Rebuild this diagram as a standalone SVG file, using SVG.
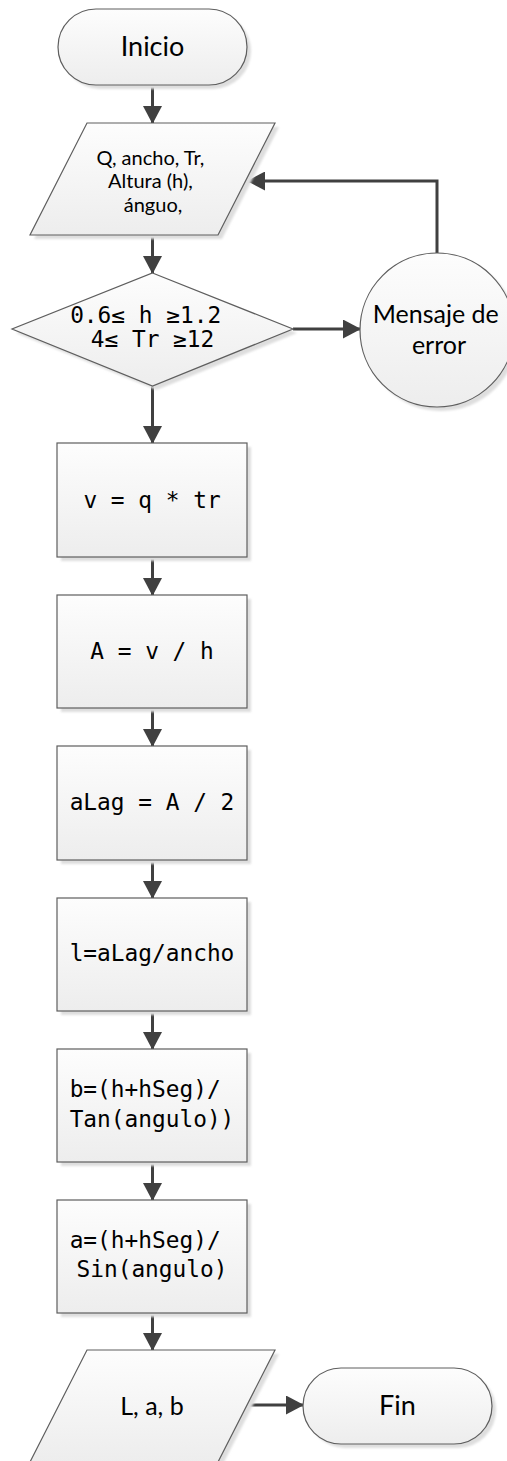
<svg xmlns="http://www.w3.org/2000/svg" width="507" height="1461" viewBox="0 0 507 1461">
  <defs>
    <linearGradient id="fillGrad" x1="0" y1="0" x2="0" y2="1">
      <stop offset="0" stop-color="#fdfdfd"/>
      <stop offset="1" stop-color="#ededed"/>
    </linearGradient>
    <marker id="arrow" viewBox="0 0 18 19" refX="17" refY="9.5" markerWidth="18" markerHeight="19" markerUnits="userSpaceOnUse" orient="auto">
      <path d="M0,0 L18,9.5 L0,19 Z" fill="#404040"/>
    </marker>
    <filter id="soft" x="-10%" y="-10%" width="130%" height="130%">
      <feGaussianBlur stdDeviation="1"/>
    </filter>
  </defs>
  <style>
    .shape { fill: url(#fillGrad); stroke: #5e5e5e; stroke-width: 1.2; }
    .shadow { fill: #dedede; filter: url(#soft); }
    .conn { fill: none; stroke: #404040; stroke-width: 3; marker-end: url(#arrow); }
    .sans { font-family: Lato, "Open Sans", "Liberation Sans", sans-serif; fill: #000; text-anchor: middle; }
    .mono { font-family: "DejaVu Sans Mono", "Liberation Mono", monospace; font-size: 22.8px; fill: #000; text-anchor: middle; }
  </style>

  <rect width="507" height="1461" fill="#ffffff"/>

  <!-- connectors -->
  <g id="connectors">
    <path class="conn" d="M152.5,85 V123"/>
    <path class="conn" d="M152.5,235 V273"/>
    <path class="conn" d="M293,329 H360"/>
    <path class="conn" d="M437,253 V181 H248"/>
    <path class="conn" d="M152.5,386 V443"/>
    <path class="conn" d="M152.5,557 V595"/>
    <path class="conn" d="M152.5,708 V746"/>
    <path class="conn" d="M152.5,860 V898"/>
    <path class="conn" d="M152.5,1011 V1049"/>
    <path class="conn" d="M152.5,1162 V1200"/>
    <path class="conn" d="M152.5,1313 V1350"/>
    <path class="conn" d="M247,1405 H303"/>
  </g>

  <!-- start terminal -->
  <g id="inicio">
    <rect class="shadow" x="62" y="13" width="189" height="76" rx="38"/>
    <rect class="shape" x="58" y="9" width="189" height="76" rx="38"/>
    <text class="sans" x="152.5" y="56" font-size="27">Inicio</text>
  </g>

  <!-- input data -->
  <g id="entrada">
    <path class="shadow" d="M91,127 H279 L222,239 H34 Z"/>
    <path class="shape" d="M87,123 H275 L218,235 H30 Z"/>
    <text class="sans" font-size="20">
      <tspan x="153" y="165">Q, ancho, Tr,</tspan>
      <tspan x="153" y="188">Altura (h),</tspan>
      <tspan x="153" y="212">ánguo,</tspan>
    </text>
  </g>

  <!-- range check -->
  <g id="decision">
    <path class="shadow" d="M156.5,277 L297,333 L156.5,390 L16,333 Z"/>
    <path class="shape" d="M152.5,273 L293,329 L152.5,386 L12,329 Z"/>
    <text class="mono">
      <tspan x="152.5" y="323">0.6≤ h ≥1.2</tspan>
      <tspan x="152.5" y="347">4≤ Tr ≥12</tspan>
    </text>
  </g>

  <!-- error message -->
  <g id="error">
    <circle class="shadow" cx="441" cy="334" r="77"/>
    <circle class="shape" cx="437" cy="330" r="77"/>
    <text class="sans" font-size="25">
      <tspan x="439" y="323">Mensaje de</tspan>
      <tspan x="439" y="354">error</tspan>
    </text>
  </g>

  <!-- processes -->
  <g id="proc-v">
    <rect class="shadow" x="61" y="447" width="190" height="114"/>
    <rect class="shape" x="57" y="443" width="190" height="114"/>
    <text class="mono" x="152" y="508">v = q * tr</text>
  </g>

  <g id="proc-area">
    <rect class="shadow" x="61" y="599" width="190" height="113"/>
    <rect class="shape" x="57" y="595" width="190" height="113"/>
    <text class="mono" x="152" y="659">A = v / h</text>
  </g>

  <g id="proc-alag">
    <rect class="shadow" x="61" y="750" width="190" height="114"/>
    <rect class="shape" x="57" y="746" width="190" height="114"/>
    <text class="mono" x="152" y="810">aLag = A / 2</text>
  </g>

  <g id="proc-largo">
    <rect class="shadow" x="61" y="902" width="190" height="113"/>
    <rect class="shape" x="57" y="898" width="190" height="113"/>
    <text class="mono" x="152" y="961">l=aLag/ancho</text>
  </g>

  <g id="proc-b">
    <rect class="shadow" x="61" y="1053" width="190" height="113"/>
    <rect class="shape" x="57" y="1049" width="190" height="113"/>
    <text class="mono">
      <tspan x="152" y="1097">b=(h+hSeg)/</tspan>
      <tspan x="152" y="1127">Tan(angulo))</tspan>
    </text>
  </g>

  <g id="proc-a">
    <rect class="shadow" x="61" y="1204" width="190" height="113"/>
    <rect class="shape" x="57" y="1200" width="190" height="113"/>
    <text class="mono">
      <tspan x="152" y="1248">a=(h+hSeg)/</tspan>
      <tspan x="152" y="1277">Sin(angulo)</tspan>
    </text>
  </g>

  <!-- output -->
  <g id="salida">
    <path class="shadow" d="M91,1354 H279 L222,1466 H34 Z"/>
    <path class="shape" d="M87,1350 H275 L218,1462 H30 Z"/>
    <text class="sans" x="152" y="1415" font-size="25">L, a, b</text>
  </g>

  <!-- end terminal -->
  <g id="fin">
    <rect class="shadow" x="307" y="1372" width="189" height="76" rx="38"/>
    <rect class="shape" x="303" y="1368" width="189" height="76" rx="38"/>
    <text class="sans" x="397.5" y="1415" font-size="27">Fin</text>
  </g>
</svg>
